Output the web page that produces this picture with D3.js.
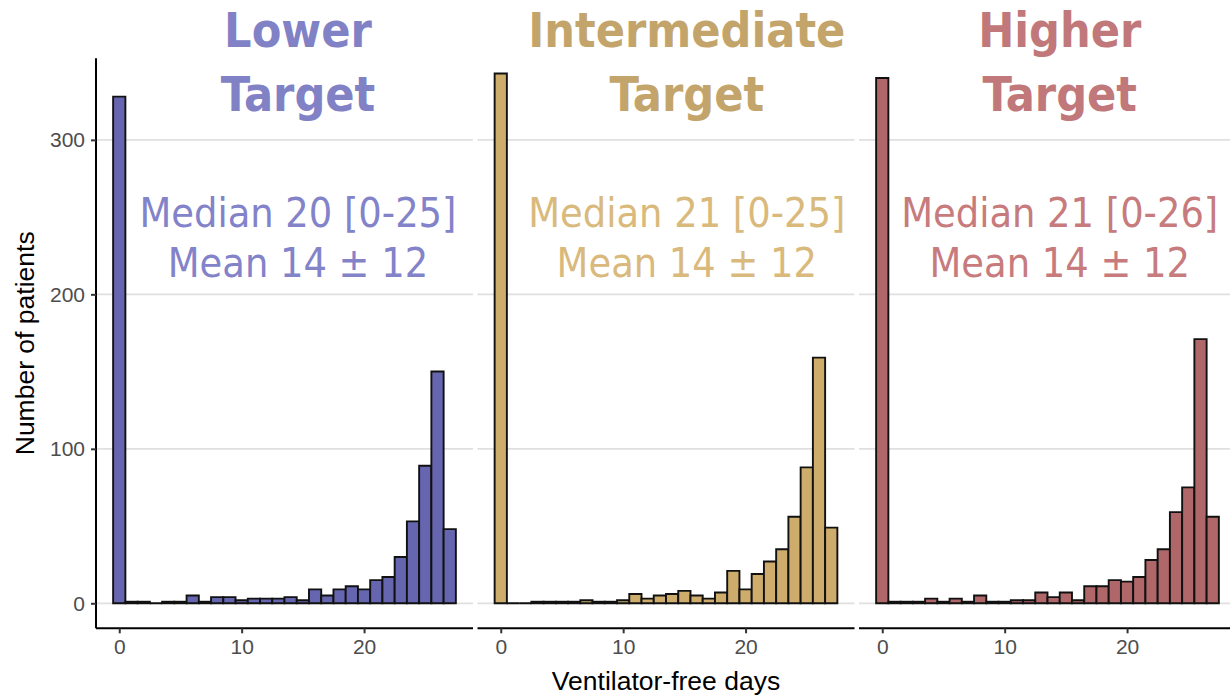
<!DOCTYPE html>
<html>
<head>
<meta charset="utf-8">
<script src="https://cdn.jsdelivr.net/npm/d3@7"></script>
<style>
  html, body { margin: 0; padding: 0; background: #fff; }
  svg { display: block; }
  .facet-title { font-family: "DejaVu Sans Condensed", "DejaVu Sans", sans-serif; font-stretch: condensed; font-weight: bold; }
  .facet-stats { font-family: "DejaVu Sans Condensed", "DejaVu Sans", sans-serif; font-stretch: condensed; }
  .tick-label { font-family: "Liberation Sans", Arial, sans-serif; fill: #4d4d4d; }
  .axis-title { font-family: "Liberation Sans", Arial, sans-serif; fill: #000; }
</style>
</head>
<body>
<svg id="chart" width="1230" height="696"></svg>
<script>
// Ventilator-free days, one histogram per oxygenation target (bins of 1 day, 0..27)
const groups = ["Lower", "Intermediate", "Higher"];
const titleLines = [["Lower", "Target"], ["Intermediate", "Target"], ["Higher", "Target"]];
const statLines = [
  ["Median 20 [0-25]", "Mean 14 \u00b1 12"],
  ["Median 21 [0-25]", "Mean 14 \u00b1 12"],
  ["Median 21 [0-26]", "Mean 14 \u00b1 12"]
];
const days = d3.range(0, 28);
const countsLower = [328, 1, 1, 0, 1, 1, 5, 1, 4, 4, 2, 3, 3, 3, 4, 2, 9, 5, 9, 11, 9, 15, 17, 30, 53, 89, 150, 48];
const countsIntermediate = [343, 0, 0, 1, 1, 1, 1, 2, 1, 1, 2, 6, 3, 5, 6, 8, 5, 3, 7, 21, 9, 19, 27, 35, 56, 88, 159, 49];
const countsHigher = [340, 1, 1, 1, 3, 1, 3, 1, 5, 1, 1, 2, 2, 7, 4, 7, 2, 11, 11, 15, 14, 17, 28, 35, 59, 75, 171, 56];
const yTicks = [0, 100, 200, 300];
const xTicks = [0, 10, 20];

const counts = [countsLower, countsIntermediate, countsHigher];
const fills = ["#6666b0", "#cdac6c", "#b0676a"];
const titleColors = ["#8181c6", "#c3a56c", "#c1787a"];
const statColors = ["#8383c9", "#d9ba7c", "#c77b7d"];
const labelDay = [14.6, 15.2, 14.5];

const svg = d3.select("#chart");

// facet geometry
const panelW = 377, panelStep = 381.5, firstLeft = 96;
const plotTop = 58.3, plotBottom = 628.3;

const y = d3.scaleLinear().domain([-16.2, 352.8]).range([plotBottom, plotTop]);

groups.forEach((g, p) => {
  const left = firstLeft + p * panelStep;
  const x = d3.scaleLinear().domain([-1.9, 28.9]).range([left, left + panelW]);
  const panel = svg.append("g").attr("class", "panel-" + g);

  // horizontal grid
  panel.selectAll("line.grid").data(yTicks).join("line")
    .attr("class", "grid")
    .attr("x1", left).attr("x2", left + panelW)
    .attr("y1", d => y(d)).attr("y2", d => y(d))
    .attr("stroke", "#e0e0e0").attr("stroke-width", 1.8);

  // titles
  const tx = x(labelDay[p]);
  panel.append("text").attr("class", "facet-title")
    .attr("x", tx).attr("y", 46.7).attr("text-anchor", "middle")
    .attr("font-size", 48).attr("fill", titleColors[p])
    .text(titleLines[p][0]);
  panel.append("text").attr("class", "facet-title")
    .attr("x", tx).attr("y", 110.5).attr("text-anchor", "middle")
    .attr("font-size", 48).attr("fill", titleColors[p])
    .text(titleLines[p][1]);

  // summary statistics
  panel.append("text").attr("class", "facet-stats")
    .attr("x", tx).attr("y", 226.7).attr("text-anchor", "middle")
    .attr("font-size", 41).attr("fill", statColors[p])
    .text(statLines[p][0]);
  panel.append("text").attr("class", "facet-stats")
    .attr("x", tx).attr("y", 276.7).attr("text-anchor", "middle")
    .attr("font-size", 41).attr("fill", statColors[p])
    .text(statLines[p][1]);

  // histogram bars (paths, so empty bins still show their outline on the baseline)
  panel.selectAll("path.bar").data(days).join("path")
    .attr("class", "bar")
    .attr("d", d => {
      const x0 = x(d - 0.5), x1 = x(d + 0.5), y0 = y(0), y1 = y(counts[p][d]);
      return `M${x0},${y0}V${y1}H${x1}V${y0}Z`;
    })
    .attr("fill", fills[p])
    .attr("stroke", "#111").attr("stroke-width", 1.9)
    .attr("stroke-linejoin", "miter");

  // x axis
  const xAxis = d3.axisBottom(x).tickValues(xTicks).tickSize(5).tickPadding(6).tickFormat(d3.format("d"));
  const xg = panel.append("g").attr("transform", `translate(0,${plotBottom})`).call(xAxis);
  xg.select(".domain").attr("d", `M${left},0H${left + panelW}`).attr("stroke", "#000").attr("stroke-width", 2);
  xg.selectAll(".tick line").attr("stroke", "#333").attr("stroke-width", 2);
  xg.selectAll(".tick text").attr("class", "tick-label").attr("font-size", 21).attr("fill", "#4d4d4d");
  xg.attr("font-family", null).attr("font-size", null);

  if (p === 0) {
    const yAxis = d3.axisLeft(y).tickValues(yTicks).tickSize(5).tickPadding(6);
    const yg = panel.append("g").attr("transform", `translate(${left},0)`).call(yAxis);
    yg.select(".domain").attr("d", `M0,${plotTop}V${plotBottom}`).attr("stroke", "#000").attr("stroke-width", 2);
    yg.selectAll(".tick line").attr("stroke", "#333").attr("stroke-width", 2);
    yg.selectAll(".tick text").attr("class", "tick-label").attr("font-size", 21).attr("fill", "#4d4d4d");
    yg.attr("font-family", null).attr("font-size", null);
  }
});

// axis titles
svg.append("text").attr("class", "axis-title")
  .attr("x", firstLeft + panelStep + panelW / 2).attr("y", 690)
  .attr("text-anchor", "middle").attr("font-size", 26.5)
  .text("Ventilator-free days");
svg.append("text").attr("class", "axis-title")
  .attr("transform", `translate(34,${(plotTop + plotBottom) / 2}) rotate(-90)`)
  .attr("text-anchor", "middle").attr("font-size", 26.5)
  .text("Number of patients");
</script>
</body>
</html>
